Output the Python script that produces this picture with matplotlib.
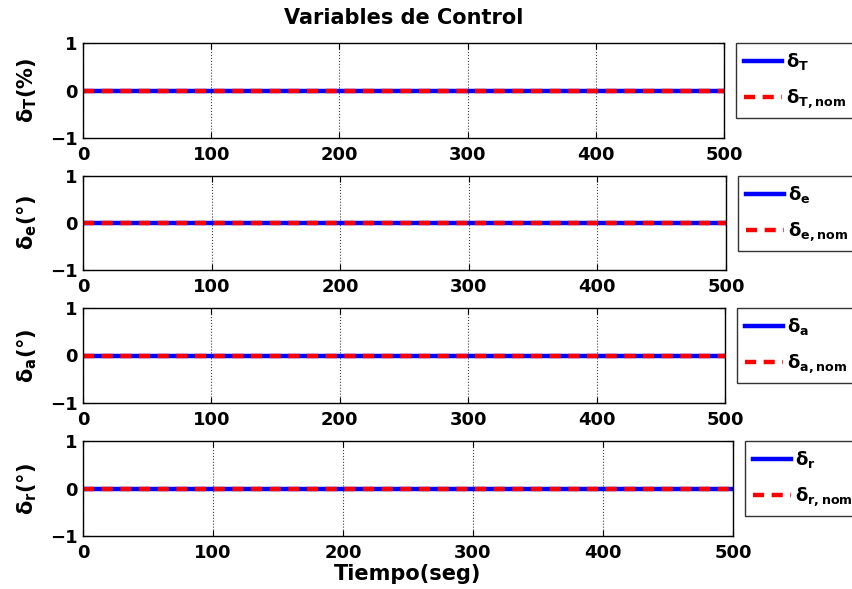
import matplotlib
matplotlib.use("Agg")
import matplotlib.pyplot as plt

plt.rcParams['font.family'] = ['DejaVu Sans']
plt.rcParams['font.weight'] = 'bold'
plt.rcParams['mathtext.fontset'] = 'dejavusans'

# Data
tiempo = [0, 500]
delta_T = [0, 0]
delta_T_nom = [0, 0]
delta_e = [0, 0]
delta_e_nom = [0, 0]
delta_a = [0, 0]
delta_a_nom = [0, 0]
delta_r = [0, 0]
delta_r_nom = [0, 0]
xticks = [0, 100, 200, 300, 400, 500]
yticks = [-1, 0, 1]

ylabels = [r'$\mathrm{\delta}_{\mathbf{T}}$(%)', r'$\mathrm{\delta}_{\mathbf{e}}$(°)',
           r'$\mathrm{\delta}_{\mathbf{a}}$(°)', r'$\mathrm{\delta}_{\mathbf{r}}$(°)']
leg_labels = [(r'$\mathrm{\delta}_{\mathbf{T}}$', r'$\mathrm{\delta}_{\mathbf{T,nom}}$'),
              (r'$\mathrm{\delta}_{\mathbf{e}}$', r'$\mathrm{\delta}_{\mathbf{e,nom}}$'),
              (r'$\mathrm{\delta}_{\mathbf{a}}$', r'$\mathrm{\delta}_{\mathbf{a,nom}}$'),
              (r'$\mathrm{\delta}_{\mathbf{r}}$', r'$\mathrm{\delta}_{\mathbf{r,nom}}$')]
series = [(delta_T, delta_T_nom), (delta_e, delta_e_nom),
          (delta_a, delta_a_nom), (delta_r, delta_r_nom)]

W, H = 853, 589
fig = plt.figure(figsize=(W / 100, H / 100), dpi=100)

# axes boxes in pixels: left, top, right, bottom
boxes = [(83, 43, 724, 138), (83, 176, 726, 270), (83, 308, 725, 403), (83, 441, 733, 536)]

for i, (box, (a, b)) in enumerate(zip(boxes, series)):
    l, t, r, btm = box
    ax = fig.add_axes([l / W, 1 - btm / H, (r - l) / W, (btm - t) / H])
    ax.plot(tiempo, a, color='blue', lw=3.2, label=leg_labels[i][0])
    ax.plot(tiempo, b, color='red', lw=3.2, ls=(0, (2.5, 1.7)), label=leg_labels[i][1])
    ax.set_xlim(0, 500)
    ax.set_ylim(-1, 1)
    ax.set_xticks(xticks)
    ax.set_yticks(yticks)
    ax.set_yticklabels(['\u22121', '0', '1'])
    ax.tick_params(direction='in', labelsize=13, length=4, top=True, right=True)
    ax.tick_params(axis='x', pad=6)
    ax.tick_params(axis='y', pad=4)
    for lab in ax.get_xticklabels() + ax.get_yticklabels():
        lab.set_fontweight('bold')
    ax.grid(axis='x', ls=':', color='0.25', lw=0.8)
    for s in ax.spines.values():
        s.set_linewidth(1.0)
    ax.set_ylabel(ylabels[i], fontsize=15, fontweight='bold', labelpad=8)
    leg = ax.legend(loc='upper left', bbox_to_anchor=(12 / (r - l) + 1.0, 1.0), fontsize=13,
                    frameon=True, fancybox=False, edgecolor='black',
                    handlelength=2.1, handletextpad=0.2, borderpad=0.45,
                    labelspacing=0.85, borderaxespad=0)
    leg.get_frame().set_linewidth(1.0)
    if i == 0:
        ax.set_title('Variables de Control', fontsize=15, fontweight='bold', pad=14)
    if i == 3:
        ax.set_xlabel('Tiempo(seg)', fontsize=15, fontweight='bold', labelpad=1)

fig.savefig('out.png', dpi=100)
